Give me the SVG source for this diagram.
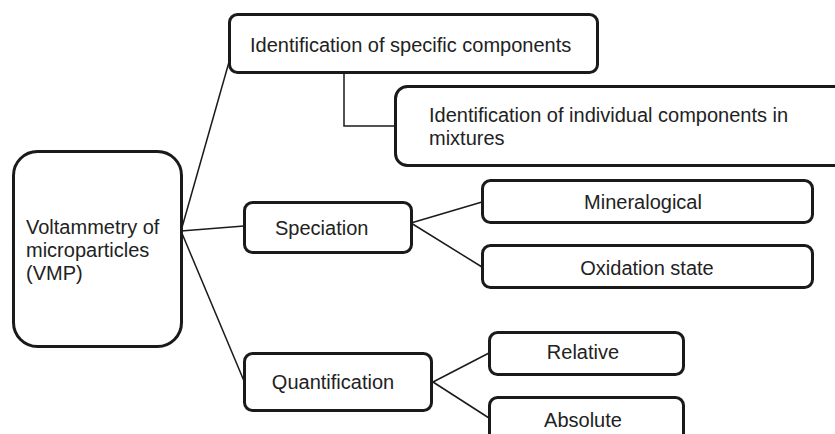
<svg xmlns="http://www.w3.org/2000/svg" width="835" height="434" viewBox="0 0 835 434">
<style>
.box{fill:#fff;stroke:#1a1a1a;stroke-width:3}
.lbl{font-family:"Liberation Sans",Arial,sans-serif;font-size:20px;fill:#222}
.mid{text-anchor:middle}
.conn{fill:none;stroke:#1a1a1a;stroke-width:1.5}
</style>
<rect width="835" height="434" fill="#fff"/>
<g id="connectors">
<line class="conn" x1="181" y1="231" x2="229" y2="62"/>
<line class="conn" x1="181" y1="231" x2="244" y2="226"/>
<line class="conn" x1="181" y1="231" x2="244" y2="381"/>
<polyline class="conn" points="344,73 344,126 395,126"/>
<line class="conn" x1="411" y1="223" x2="482" y2="202"/>
<line class="conn" x1="411" y1="223" x2="482" y2="267"/>
<line class="conn" x1="433" y1="382" x2="489" y2="353"/>
<line class="conn" x1="433" y1="382" x2="489" y2="418"/>
</g>
<g id="vmp">
<rect class="box" x="13.5" y="151.5" width="168" height="195" rx="24"/>
<text class="lbl" x="26" y="234">Voltammetry of</text>
<text class="lbl" x="26" y="257">microparticles</text>
<text class="lbl" x="26" y="280">(VMP)</text>
</g>
<g id="ident-specific">
<rect class="box" x="229.5" y="14.5" width="368" height="58" rx="8"/>
<text class="lbl" x="250" y="52">Identification of specific components</text>
</g>
<g id="ident-individual">
<rect class="box" x="395.5" y="86.5" width="450" height="79" rx="12"/>
<text class="lbl" x="429" y="122">Identification of individual components in</text>
<text class="lbl" x="429" y="145">mixtures</text>
</g>
<g id="speciation">
<rect class="box" x="244.5" y="202.5" width="167" height="50" rx="8"/>
<text class="lbl" x="275" y="235">Speciation</text>
</g>
<g id="mineralogical">
<rect class="box" x="482.5" y="180.5" width="330" height="42" rx="8"/>
<text class="lbl mid" x="643" y="209">Mineralogical</text>
</g>
<g id="oxidation">
<rect class="box" x="482.5" y="245.5" width="330" height="42" rx="8"/>
<text class="lbl mid" x="647" y="275">Oxidation state</text>
</g>
<g id="quantification">
<rect class="box" x="244.5" y="353.5" width="187" height="57" rx="8"/>
<text class="lbl mid" x="333" y="389">Quantification</text>
</g>
<g id="relative">
<rect class="box" x="489.5" y="332.5" width="194" height="42" rx="8"/>
<text class="lbl mid" x="583" y="359">Relative</text>
</g>
<g id="absolute">
<rect class="box" x="489.5" y="397.5" width="194" height="50" rx="8"/>
<text class="lbl mid" x="583" y="427">Absolute</text>
</g>
</svg>
